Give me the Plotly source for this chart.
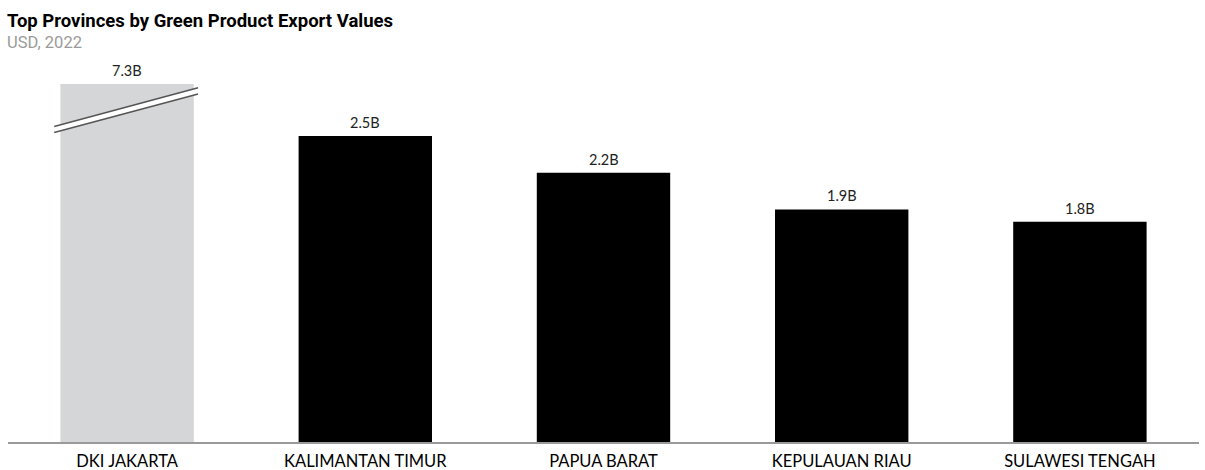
import plotly.graph_objects as go

# Provinces and their green product export values (billion USD, 2022)
provinces = ["DKI JAKARTA", "KALIMANTAN TIMUR", "PAPUA BARAT", "KEPULAUAN RIAU", "SULAWESI TENGAH"]
export_values = [7.3, 2.5, 2.2, 1.9, 1.8]
value_labels = ["7.3B", "2.5B", "2.2B", "1.9B", "1.8B"]
bar_colors = ["#d5d6d8", "#000000", "#000000", "#000000", "#000000"]

# Visible top of the value axis; the Jakarta bar runs past it and is shown broken
y_top = 2.925

fig = go.Figure()
fig.add_trace(go.Bar(
    x=provinces,
    y=export_values,
    marker=dict(color=bar_colors, line=dict(width=0)),
    width=0.56,
    hoverinfo="skip",
))

# Value labels above each bar (the truncated bar gets its label at the axis top)
for name, val, lab in zip(provinces, export_values, value_labels):
    fig.add_annotation(
        x=name, y=min(val, y_top), xref="x", yref="y",
        text=lab, showarrow=False, yanchor="bottom", yshift=3,
        font=dict(family="Lato, Noto Sans, sans-serif", size=14.5, color="#222222"),
    )

# Axis-break marker across the truncated bar: white band with grey edges
bx0, bx1 = -0.306, 0.298
upper = (2.578, 2.895)
lower = (2.529, 2.843)
fig.add_shape(
    type="path", xref="x", yref="y",
    path=f"M {bx0},{upper[0]} L {bx1},{upper[1]} L {bx1},{lower[1]} L {bx0},{lower[0]} Z",
    fillcolor="white", line=dict(width=0), layer="above",
)
for y0, y1 in (upper, lower):
    fig.add_shape(
        type="line", xref="x", yref="y", x0=bx0, x1=bx1, y0=y0, y1=y1,
        line=dict(color="#555555", width=1.5), layer="above",
    )

# Title and subtitle
fig.add_annotation(
    xref="paper", yref="paper", x=0, y=1, xanchor="left", yanchor="middle",
    xshift=-3, yshift=63, showarrow=False,
    text="<b>Top Provinces by Green Product Export Values</b>",
    font=dict(family="Roboto, sans-serif", size=18.5, color="#000000"),
)
fig.add_annotation(
    xref="paper", yref="paper", x=0, y=1, xanchor="left", yanchor="middle",
    xshift=-3, yshift=42, showarrow=False,
    text="USD, 2022",
    font=dict(family="Roboto, sans-serif", size=16.5, color="#9a9a9a"),
)

fig.update_layout(
    width=1205, height=470,
    margin=dict(l=8, r=6, t=84, b=28),
    paper_bgcolor="white", plot_bgcolor="white",
    showlegend=False,
    bargap=0.44,
)
fig.update_xaxes(
    showline=True, linecolor="#9a9a9a", linewidth=2,
    showgrid=False, zeroline=False, automargin=False,
    ticks="outside", ticklen=3, tickcolor="rgba(0,0,0,0)",
    tickfont=dict(family="Lato, Noto Sans, sans-serif", size=16.5, color="#000000"),
    range=[-0.5, 4.5], fixedrange=True,
)
fig.update_yaxes(
    range=[0, y_top], visible=False, showgrid=False, zeroline=False,
    automargin=False, fixedrange=True,
)

fig.write_html("out.html")
